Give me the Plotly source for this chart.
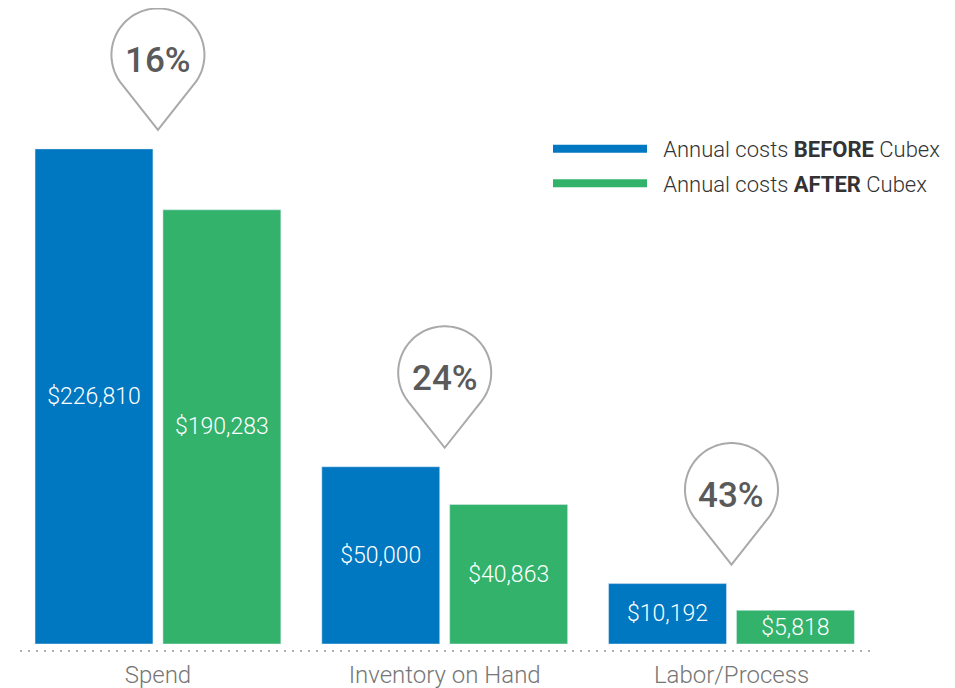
import numpy as np
import plotly.graph_objects as go

# ---------------- data ----------------
categories = ["Spend", "Inventory on Hand", "Labor/Process"]
before_values = [226810, 50000, 10192]          # dollar labels shown on the blue bars
after_values = [190283, 40863, 5818]            # dollar labels shown on the green bars
# drawn bar heights (index, tallest bar = 100)
before_heights = [100, 35.8, 12.2]
after_heights = [87.7, 28.2, 6.8]
savings_pct = [16, 24, 43]
series_names = ["Annual costs <b>BEFORE</b> Cubex", "Annual costs <b>AFTER</b> Cubex"]

# ---------------- style ----------------
BLUE = "#0077c1"
GREEN = "#33b26c"
PIN = "#a9a9a9"
FONT = "Roboto"
W, H = 955, 688
PAGE_OFF = 8                      # default body margin of the html page
M_L, M_R, M_T = 20 - PAGE_OFF, 85 + PAGE_OFF, 0
BASE_PX = 644.5                   # baseline position in the window
plot_h = BASE_PX - PAGE_OFF - M_T
M_B = H - M_T - plot_h
PX_PER_UNIT = 4.955

fig = go.Figure()
fig.add_trace(go.Bar(
    x=categories, y=before_heights, marker_color=BLUE, showlegend=False,
    text=[f"${v:,}" for v in before_values], textposition="inside",
    insidetextanchor="middle", textangle=0,
    textfont=dict(family=FONT, size=23, color="white", weight=300),
    hoverinfo="skip"))
fig.add_trace(go.Bar(
    x=categories, y=after_heights, marker_color=GREEN, showlegend=False,
    text=[f"${v:,}" for v in after_values], textposition="inside",
    insidetextanchor="middle", textangle=0,
    textfont=dict(family=FONT, size=23, color="white", weight=300),
    hoverinfo="skip"))

# legend entries (line swatches)
for name, col, grp in zip(series_names, [BLUE, GREEN], ["a", "b"]):
    fig.add_trace(go.Scatter(x=[None], y=[None], mode="lines", name="\u2002" + name,
                             line=dict(color=col, width=8), legendgroup=grp))

# ---------------- pins ----------------
R, C, GAP = 46.5, 75, 19
phi = np.arccos(R / C)
a0 = -(np.pi / 2 - phi)
ts = np.linspace(a0, np.pi - a0, 90)
pts = [(0, GAP)] + [(R * np.cos(t), GAP + C + R * np.sin(t)) for t in ts]
path = "M " + " L ".join(f"{x:.2f},{y:.2f}" for x, y in pts) + " Z"

shapes = []
annotations = []
for cat, h, pct in zip(categories, before_heights, savings_pct):
    shapes.append(dict(type="path", xref="x", yref="y", xsizemode="pixel", ysizemode="pixel",
                       xanchor=cat, yanchor=h, path=path,
                       line=dict(color=PIN, width=2), fillcolor="rgba(0,0,0,0)"))
    annotations.append(dict(x=cat, y=h, xref="x", yref="y", text=f"{pct}%", showarrow=False,
                            yshift=GAP + C - 6, font=dict(family=FONT, size=35, color="#5a5a5a", weight=500)))

# dotted baseline
shapes.append(dict(type="line", xref="paper", yref="paper", x0=0, x1=1,
                   y0=-7 / plot_h, y1=-7 / plot_h,
                   line=dict(color="#b0b0b0", width=2, dash="2px,6px")))

plot_w = W - M_L - M_R
fig.update_layout(
    width=W, height=H,
    margin=dict(l=M_L, r=M_R, t=M_T, b=M_B),
    plot_bgcolor="white", paper_bgcolor="white",
    barmode="group", bargap=0.108, bargroupgap=0.078,
    uniformtext=dict(minsize=23, mode="show"),
    xaxis=dict(range=[-0.481, 2.483], showgrid=False, zeroline=False, showline=False,
               ticks="", ticklabelstandoff=14,
               tickfont=dict(family=FONT, size=24, color="#767676", weight=300)),
    yaxis=dict(range=[0, plot_h / PX_PER_UNIT], visible=False),
    legend=dict(x=(548 - PAGE_OFF - M_L) / plot_w, y=1 - (128 - PAGE_OFF) / plot_h,
                xanchor="left", yanchor="top",
                itemwidth=94, tracegroupgap=3, bgcolor="rgba(0,0,0,0)",
                font=dict(family=FONT, size=22, color="#333333", weight=300)),
    shapes=shapes, annotations=annotations,
    font=dict(family=FONT),
)

fig.write_html("out.html")
